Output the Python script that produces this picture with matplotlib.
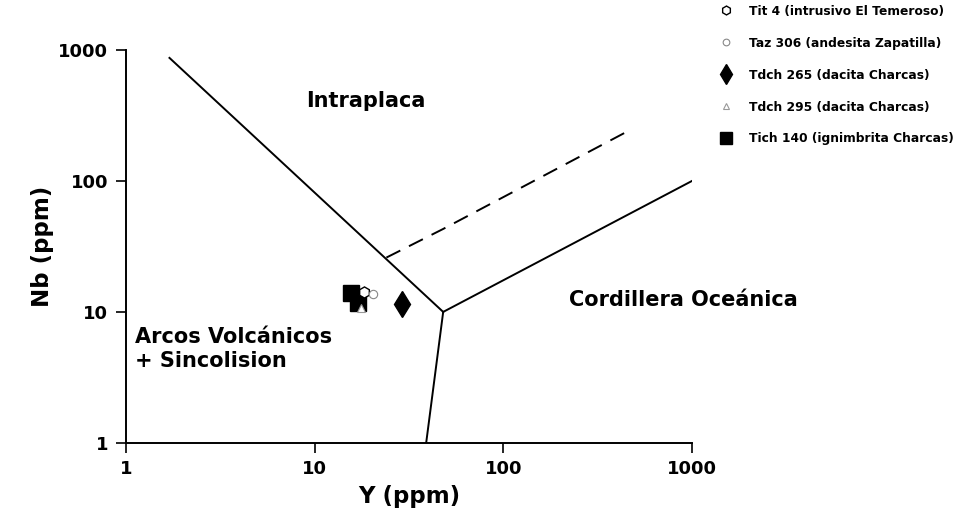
import matplotlib
matplotlib.use("Agg")
import matplotlib.pyplot as plt

plt.rcParams["font.family"] = ["DejaVu Sans"]
plt.rcParams["font.weight"] = "bold"

# discrimination boundaries (Y, Nb)
line_syncol_wpg_y = [1.7, 48]
line_syncol_wpg_nb = [870, 10]
line_orb_y = [48, 1000]
line_orb_nb = [10, 100]
line_vag_y = [48, 39]
line_vag_nb = [10, 1]
dashed_y = [24, 48, 470]
dashed_nb = [26, 43, 245]

# samples
tit4_y, tit4_nb = [18.3], [14.3]
taz306_y, taz306_nb = [20.5], [13.6]
tdch265_y, tdch265_nb = [29], [11.5]
tdch295_y, tdch295_nb = [17.5], [10.8]
tich140_y, tich140_nb = [15.6, 17.0], [14.0, 11.8]

fig = plt.figure(figsize=(9.67, 5.26), dpi=100)
ax = fig.add_axes([0.1303, 0.158, 0.5853, 0.747])

ax.plot(line_syncol_wpg_y, line_syncol_wpg_nb, color="black", lw=1.4)
ax.plot(line_orb_y, line_orb_nb, color="black", lw=1.4)
ax.plot(line_vag_y, line_vag_nb, color="black", lw=1.4)
ax.plot(dashed_y, dashed_nb, color="black", lw=1.4, dashes=(8, 5))

ax.plot(tich140_y, tich140_nb, "s", color="black", ms=11, ls="none",
        label="Tich 140 (ignimbrita Charcas)")
ax.plot(tit4_y, tit4_nb, "h", mfc="white", mec="black", ms=8, mew=1.0, ls="none",
        label="Tit 4 (intrusivo El Temeroso)")
ax.plot(taz306_y, taz306_nb, "o", mfc="white", mec="#888888", ms=6, mew=0.8, ls="none",
        label="Taz 306 (andesita Zapatilla)")
ax.plot(tdch265_y, tdch265_nb, "d", color="black", ms=13, ls="none",
        label="Tdch 265 (dacita Charcas)")
ax.plot(tdch295_y, tdch295_nb, "^", mfc="white", mec="#999999", ms=6, mew=0.8, ls="none",
        label="Tdch 295 (dacita Charcas)")

ax.set_xscale("log")
ax.set_yscale("log")
ax.set_xlim(1, 1000)
ax.set_ylim(1, 1000)
ax.set_xticks([1, 10, 100, 1000])
ax.set_xticklabels(["1", "10", "100", "1000"])
ax.set_yticks([1, 10, 100, 1000])
ax.set_yticklabels(["1", "10", "100", "1000"])
ax.minorticks_off()
ax.tick_params(labelsize=13, length=7, width=1.2)
ax.tick_params(axis="x", pad=5)
ax.tick_params(axis="y", pad=6)
for lab in ax.get_xticklabels() + ax.get_yticklabels():
    lab.set_fontweight("bold")
ax.spines["top"].set_visible(False)
ax.spines["right"].set_visible(False)
ax.spines["left"].set_linewidth(1.4)
ax.spines["bottom"].set_linewidth(1.4)

ax.set_xlabel("Y (ppm)", fontsize=16.5, fontweight="bold", labelpad=5)
ax.set_ylabel("Nb (ppm)", fontsize=16.5, fontweight="bold", labelpad=3)

ax.text(18.6, 408, "Intraplaca", fontsize=15, fontweight="bold", ha="center", va="center")
ax.text(900, 12.3, "Cordillera Oceánica", fontsize=15, fontweight="bold", ha="center", va="center")
ax.text(1.116, 5.2, "Arcos Volcánicos\n+ Sincolision", fontsize=15, fontweight="bold",
        ha="left", va="center", linespacing=1.25)

handles, labels = ax.get_legend_handles_labels()
order = [1, 2, 3, 4, 0]
fig.legend([handles[i] for i in order], [labels[i] for i in order],
           loc="upper left", bbox_to_anchor=(0.727, 1.012), frameon=False,
           prop={"size": 8.8, "weight": "bold"}, labelspacing=1.55, handletextpad=0.9,
           markerscale=0.8)

fig.savefig("out.png", dpi=100)
